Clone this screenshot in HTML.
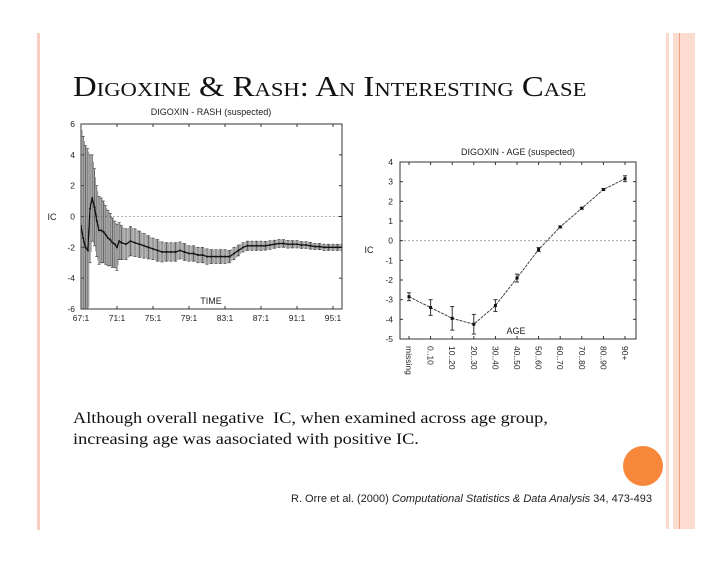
<!DOCTYPE html>
<html><head><meta charset="utf-8"><style>
body{margin:0;background:#fff;width:728px;height:563px;overflow:hidden;position:relative;font-family:"Liberation Serif",serif}
.abs{position:absolute}
</style></head><body>
<div class="abs" style="left:37px;top:33px;width:3px;height:497px;background:#f6cfc2"></div>
<div class="abs" style="left:666px;top:33px;width:3px;height:496px;background:#fbd9cc"></div>
<div class="abs" style="left:673px;top:33px;width:22px;height:496px;background:#fcdcd0"></div>
<div class="abs" style="left:679px;top:33px;width:1px;height:496px;background:#f0a080"></div>
<div class="abs" style="left:623px;top:446px;width:40px;height:40px;border-radius:50%;background:#f7873b"></div>
<div class="abs" style="left:73px;top:72px;font-size:29px;line-height:30px;font-variant:small-caps;color:#111;white-space:nowrap;transform:scaleX(1.13);transform-origin:0 0">Digoxine &amp; Rash: An Interesting Case</div>
<div class="abs" style="left:73px;top:408px;font-size:15.5px;line-height:21px;color:#111;white-space:nowrap;transform:scaleX(1.18);transform-origin:0 0">Although overall negative&nbsp; IC, when examined across age group,<br>increasing age was aasociated with positive IC.</div>
<div class="abs" style="left:291px;top:493px;font-family:'Liberation Sans',sans-serif;font-size:11px;color:#222;white-space:nowrap">R. Orre et al. (2000) <i>Computational Statistics &amp; Data Analysis</i> 34, 473-493</div>
<svg class="abs" style="left:0;top:0" width="728" height="563" id="svg" font-family="Liberation Sans, sans-serif"></svg>
<script>
// Left chart data
const timeVals=[67.0,67.25,67.5,67.75,68.0,68.25,68.5,68.75,69.0,69.25,69.5,69.75,70.0,70.25,70.5,70.75,71.0,71.25,71.5,72.0,72.5,73.0,73.5,74.0,74.5,75.0,75.5,76.0,76.5,77.0,77.5,78.0,78.5,79.0,79.5,80.0,80.5,81.0,81.5,82.0,82.5,83.0,83.5,84.0,84.5,85.0,85.5,86.0,86.5,87.0,87.5,88.0,88.5,89.0,89.5,90.0,90.5,91.0,91.5,92.0,92.5,93.0,93.5,94.0,94.5,95.0,95.5,96.0];
const icVals=[-0.6,-1.4,-2.0,-2.2,0.5,1.2,0.6,-0.3,-0.9,-0.9,-1.0,-1.2,-1.4,-1.5,-1.7,-1.8,-2.0,-1.6,-1.7,-1.8,-1.6,-1.7,-1.8,-1.9,-2.0,-2.1,-2.2,-2.3,-2.3,-2.3,-2.3,-2.2,-2.3,-2.4,-2.4,-2.5,-2.5,-2.6,-2.6,-2.6,-2.6,-2.6,-2.6,-2.4,-2.2,-2.0,-1.9,-1.9,-1.9,-1.9,-1.9,-1.85,-1.8,-1.75,-1.75,-1.8,-1.8,-1.8,-1.85,-1.85,-1.9,-1.95,-1.95,-2.0,-2.0,-2.0,-2.0,-2.0];
const errVals=[6.6,6.6,6.6,6.6,3.5,2.8,2.5,2.3,2.2,2.1,2.0,1.9,1.8,1.7,1.6,1.5,1.5,1.2,1.1,1.0,0.95,0.9,0.85,0.8,0.75,0.7,0.7,0.65,0.6,0.6,0.6,0.55,0.55,0.5,0.5,0.5,0.5,0.5,0.45,0.45,0.45,0.45,0.4,0.4,0.35,0.3,0.3,0.3,0.3,0.3,0.28,0.28,0.26,0.26,0.25,0.25,0.24,0.24,0.22,0.22,0.22,0.2,0.2,0.2,0.2,0.2,0.2,0.2];
const leftYTicks=[6,4,2,0,-2,-4,-6];
const leftXTicks=["67:1","71:1","75:1","79:1","83:1","87:1","91:1","95:1"];
const leftXTickYears=[67,71,75,79,83,87,91,95];
// Right chart data
const ageCats=["missing","0..10","10..20","20..30","30..40","40..50","50..60","60..70","70..80","80..90","90+"];
const ageIC=[-2.85,-3.4,-3.95,-4.25,-3.3,-1.9,-0.45,0.7,1.65,2.6,3.15];
const ageErr=[0.2,0.4,0.6,0.5,0.3,0.2,0.1,0.05,0.05,0.05,0.15];
const rightYTicks=[4,3,2,1,0,-1,-2,-3,-4,-5];

const svg=document.getElementById('svg');
const NS='http://www.w3.org/2000/svg';
function mk(tag,attrs,parent){const e=document.createElementNS(NS,tag);for(const k in attrs)e.setAttribute(k,attrs[k]);(parent||svg).appendChild(e);return e;}
function txt(s,attrs,parent){const e=mk('text',attrs,parent);e.textContent=s;return e;}

// ---- Left chart ----
const L={x0:81,x1:342,y0:124,y1:309};
const lx=t=>L.x0+(t-67)*9;
const ly=v=>L.y0+(6-v)/12*(L.y1-L.y0);
const gL=mk('g',{});


let t1=txt('DIGOXIN - RASH (suspected)',{x:211,y:115,'font-size':9,'text-anchor':'middle',fill:'#222'},gL);

let fr=mk('rect',{x:L.x0,y:L.y0,width:L.x1-L.x0,height:L.y1-L.y0,fill:'none',stroke:'#333','stroke-width':1},gL);

let zl=mk('line',{x1:L.x0,x2:L.x1,y1:ly(0),y2:ly(0),stroke:'#999','stroke-dasharray':'2,2','stroke-width':0.8},gL);

leftYTicks.forEach(v=>{
  const e=txt(String(v),{x:75,y:ly(v)+3,'font-size':8.5,'text-anchor':'end',fill:'#222'},gL);
  
  mk('line',{x1:L.x0,x2:L.x0+3,y1:ly(v),y2:ly(v),stroke:'#333'},gL);
  mk('line',{x1:L.x1-3,x2:L.x1,y1:ly(v),y2:ly(v),stroke:'#333'},gL);
});
leftXTicks.forEach((s,i)=>{
  const x=lx(leftXTickYears[i]);
  const e=txt(s,{x:x,y:321,'font-size':8.5,'text-anchor':'middle',fill:'#222'},gL);
  
  mk('line',{x1:x,x2:x,y1:L.y1,y2:L.y1-3,stroke:'#333'},gL);
  mk('line',{x1:x,x2:x,y1:L.y0,y2:L.y0+3,stroke:'#333'},gL);
});
let yl=txt('IC',{x:52,y:220,'font-size':9,'text-anchor':'middle',fill:'#222'},gL);

let xl=txt('TIME',{x:211,y:304,'font-size':9,'text-anchor':'middle',fill:'#222'},gL);

const clip=mk('clipPath',{id:'lc'},gL);mk('rect',{x:L.x0,y:L.y0,width:L.x1-L.x0,height:L.y1-L.y0},clip);
const gb=mk('g',{'clip-path':'url(#lc)'},gL);
for(let i=0;i<timeVals.length;i++){
  const x=lx(timeVals[i]);
  const hi=ly(icVals[i]+errVals[i]),lo=ly(icVals[i]-errVals[i]);
  const b=mk('line',{x1:x,x2:x,y1:hi,y2:lo,stroke:'#444','stroke-width':0.8},gb);
  
  mk('line',{x1:x-1.5,x2:x+1.5,y1:hi,y2:hi,stroke:'#444','stroke-width':0.7},gb);
  mk('line',{x1:x-1.5,x2:x+1.5,y1:lo,y2:lo,stroke:'#444','stroke-width':0.7},gb);
  if(i+1<timeVals.length){
    const n=timeVals[i+1]-timeVals[i]>0.3?3:1;
    for(let k=1;k<=n;k++){
      const f=k/(n+1);
      const xm=lx(timeVals[i]+(timeVals[i+1]-timeVals[i])*f);
      const m=icVals[i]+(icVals[i+1]-icVals[i])*f,er=errVals[i]+(errVals[i+1]-errVals[i])*f;
      mk('line',{x1:xm,x2:xm,y1:ly(m+er),y2:ly(m-er),stroke:'#666','stroke-width':0.6},gb);
    }
  }
}
let pts=timeVals.map((t,i)=>lx(t)+','+ly(icVals[i])).join(' ');
let pl=mk('polyline',{points:pts,fill:'none',stroke:'#111','stroke-width':1.3},gb);

timeVals.forEach((t,i)=>{const d=mk('circle',{cx:lx(t),cy:ly(icVals[i]),r:1,fill:'#111'},gb);
  });

// ---- Right chart ----
const R={x0:400,x1:636,y0:162,y1:339};
const rx=i=>409+i*21.6;
const ry=v=>R.y0+(4-v)/9*(R.y1-R.y0);
const gR=mk('g',{});


let t2=txt('DIGOXIN - AGE (suspected)',{x:518,y:155,'font-size':9,'text-anchor':'middle',fill:'#222'},gR);

let fr2=mk('rect',{x:R.x0,y:R.y0,width:R.x1-R.x0,height:R.y1-R.y0,fill:'none',stroke:'#333','stroke-width':1},gR);

let zl2=mk('line',{x1:R.x0,x2:R.x1,y1:ry(0),y2:ry(0),stroke:'#999','stroke-dasharray':'2,2','stroke-width':0.8},gR);

rightYTicks.forEach(v=>{
  const e=txt(String(v),{x:393,y:ry(v)+3,'font-size':8.5,'text-anchor':'end',fill:'#222'},gR);
  
  mk('line',{x1:R.x0,x2:R.x0+3,y1:ry(v),y2:ry(v),stroke:'#333'},gR);
  mk('line',{x1:R.x1-3,x2:R.x1,y1:ry(v),y2:ry(v),stroke:'#333'},gR);
});
ageCats.forEach((c,i)=>{
  const x=rx(i);
  const e=txt(c,{x:0,y:0,'font-size':8.5,fill:'#222',transform:`translate(${x-3},346) rotate(90)`},gR);
  
  mk('line',{x1:x,x2:x,y1:R.y1,y2:R.y1-3,stroke:'#333'},gR);
  mk('line',{x1:x,x2:x,y1:R.y0,y2:R.y0+3,stroke:'#333'},gR);
});
let yl2=txt('IC',{x:369,y:253,'font-size':9,'text-anchor':'middle',fill:'#222'},gR);

let xl2=txt('AGE',{x:516,y:334,'font-size':9,'text-anchor':'middle',fill:'#222'},gR);

let pl2=mk('polyline',{points:ageCats.map((c,i)=>rx(i)+','+ry(ageIC[i])).join(' '),fill:'none',stroke:'#444','stroke-width':1,'stroke-dasharray':'3,1'},gR);

ageCats.forEach((c,i)=>{
  const x=rx(i),hi=ry(ageIC[i]+ageErr[i]),lo=ry(ageIC[i]-ageErr[i]);
  const b=mk('line',{x1:x,x2:x,y1:hi,y2:lo,stroke:'#333','stroke-width':1},gR);
  
  mk('line',{x1:x-2,x2:x+2,y1:hi,y2:hi,stroke:'#333'},gR);
  mk('line',{x1:x-2,x2:x+2,y1:lo,y2:lo,stroke:'#333'},gR);
  const d=mk('rect',{x:x-1.5,y:ry(ageIC[i])-1.5,width:3,height:3,fill:'#111'},gR);
  
});
</script>
</body></html>
